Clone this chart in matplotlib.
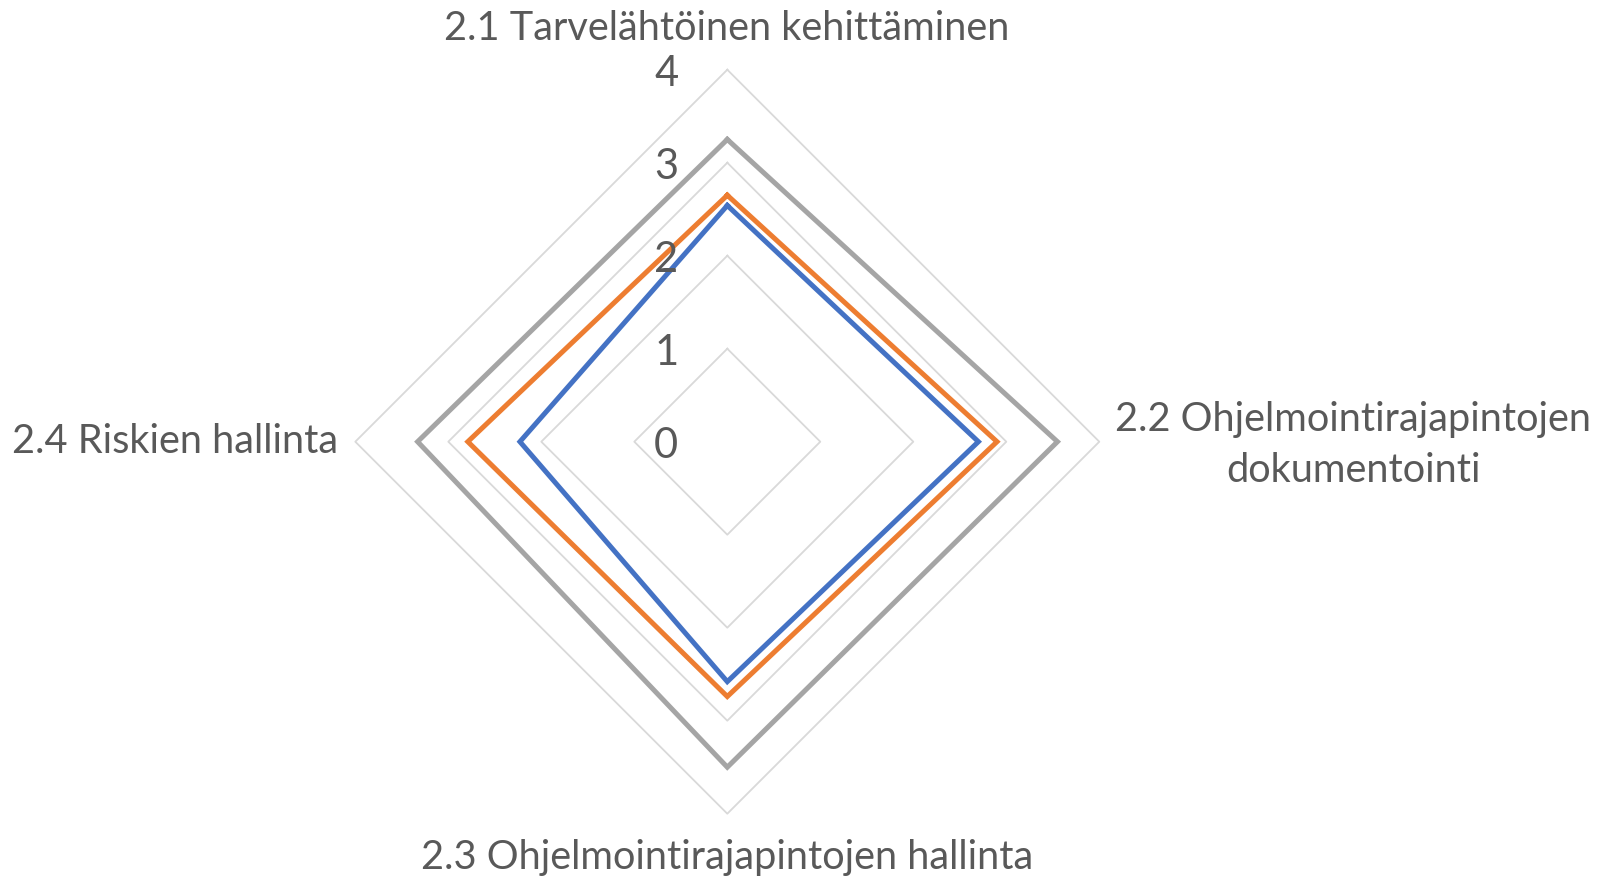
import numpy as np
import matplotlib
matplotlib.use("Agg")
import matplotlib.pyplot as plt

categories = [
    "2.1 Tarvelähtöinen kehittäminen",
    "2.2 Ohjelmointirajapintojen\ndokumentointi",
    "2.3 Ohjelmointirajapintojen hallinta",
    "2.4 Riskien hallinta",
]
series_blue = [2.54, 2.70, 2.58, 2.23]
series_orange = [2.65, 2.90, 2.74, 2.79]
series_gray = [3.25, 3.55, 3.50, 3.33]
ticks = [0, 1, 2, 3, 4]

plt.rcParams["font.family"] = ["Lato", "DejaVu Sans"]
TEXT = "#595959"
GRID = "#d9d9d9"

W, H = 1604, 879
fig = plt.figure(figsize=(W / 100, H / 100), dpi=100)
cx, cy, R = 727.3, 442.7, 372.0
ax = fig.add_axes([(cx - R) / W, (H - cy - R) / H, 2 * R / W, 2 * R / H],
                  projection="polar")
ax.set_theta_offset(np.pi / 2)
ax.set_theta_direction(-1)
ax.set_ylim(0, ticks[-1])
ax.grid(False)
ax.spines["polar"].set_visible(False)
ax.set_xticks([])
ax.set_yticks([])
ax.patch.set_alpha(0)

n = len(categories)
angles = np.arange(n) * 2 * np.pi / n
closed = np.append(angles, angles[0])

# diamond-shaped rings for each tick level
for t in ticks[1:]:
    ax.plot(closed, [t] * (n + 1), color=GRID, lw=1.3, clip_on=False, zorder=1)

for vals, col in [(series_blue, "#4472c4"), (series_orange, "#ed7d31"),
                  (series_gray, "#a5a5a5")]:
    ax.plot(closed, list(vals) + [vals[0]], color=col, lw=3.6,
            solid_joinstyle="miter", clip_on=False, zorder=3)

# radial value labels
for t in ticks:
    ax.annotate(str(t), xy=(0, t), xytext=(-61, -3), textcoords="offset pixels",
                ha="center", va="center", fontsize=30, color=TEXT,
                annotation_clip=False, zorder=4)

# category labels
def fig_px(x, y):
    return x / W, 1 - y / H

fs = 28.6
x, y = fig_px(727, 28)
fig.text(x, y, categories[0], ha="center", va="center", fontsize=fs, color=TEXT)
x, y = fig_px(1353, 445)
fig.text(x, y, categories[1], ha="center", va="center", fontsize=fs, color=TEXT,
         linespacing=1.45, multialignment="center")
x, y = fig_px(727, 858)
fig.text(x, y, categories[2], ha="center", va="center", fontsize=fs, color=TEXT)
x, y = fig_px(338, 442)
fig.text(x, y, categories[3], ha="right", va="center", fontsize=fs, color=TEXT)

fig.savefig("out.png", dpi=100, facecolor="white")
